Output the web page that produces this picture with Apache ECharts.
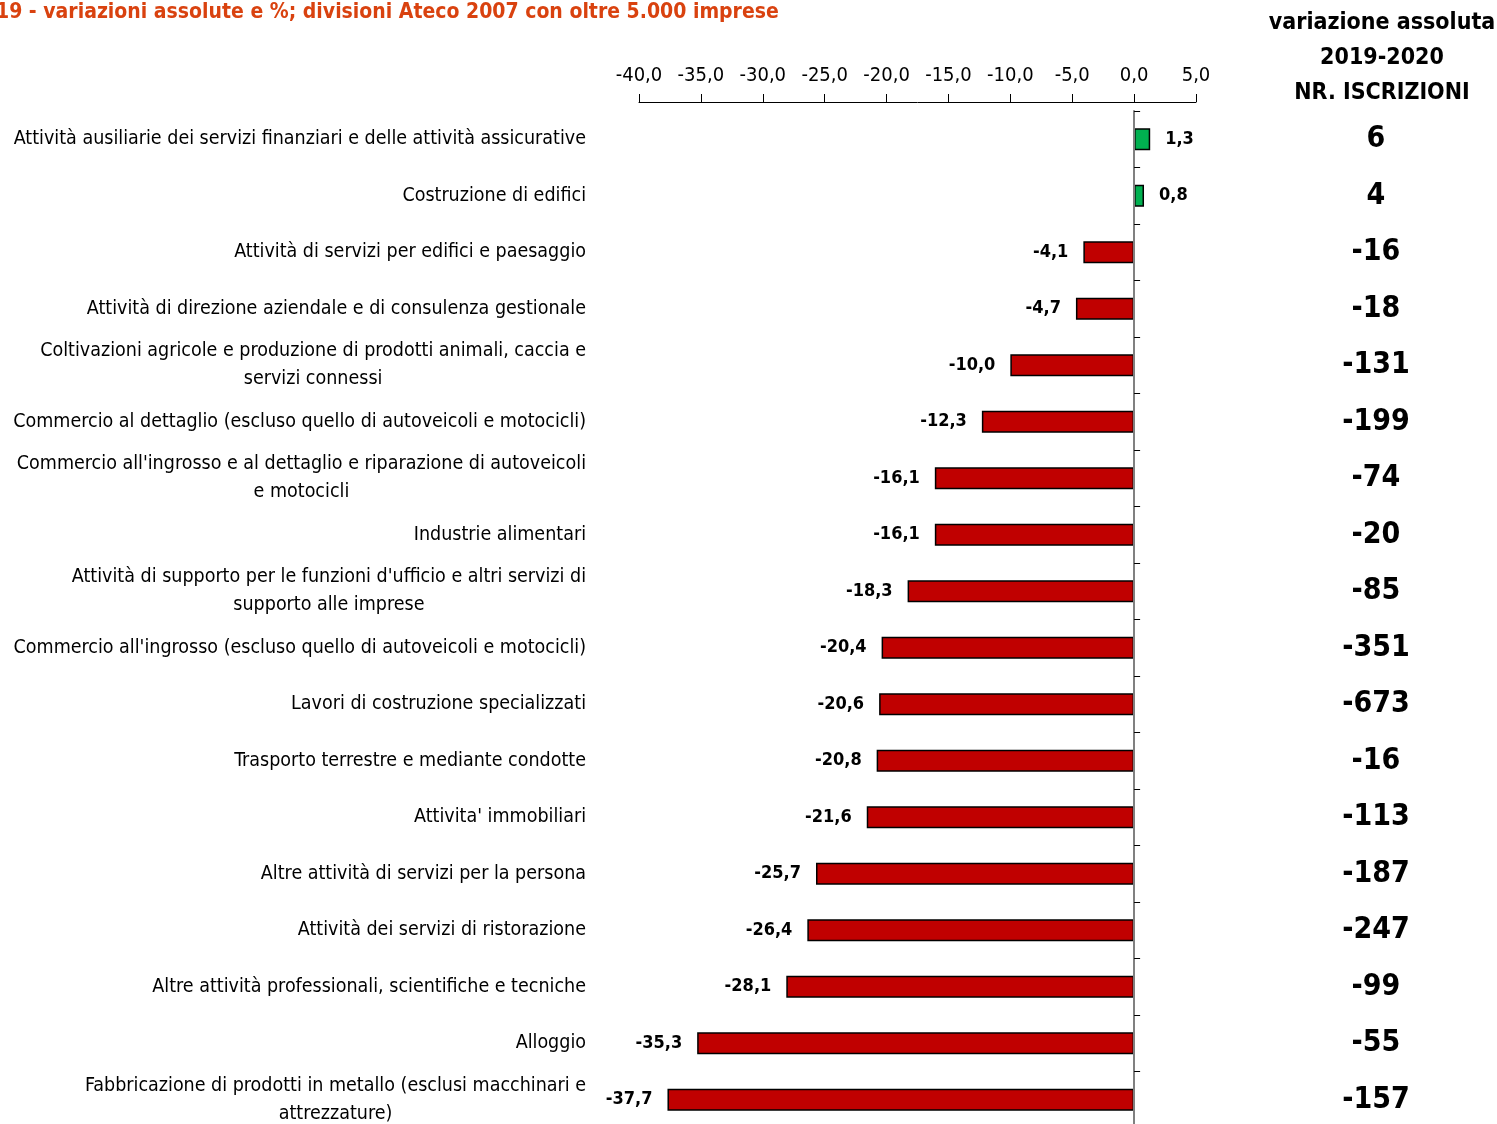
<!DOCTYPE html>
<html>
<head>
<meta charset="utf-8">
<title>Variazioni assolute e %</title>
<script src="https://cdn.jsdelivr.net/npm/echarts@6/dist/echarts.min.js"></script>
<style>
  html, body { margin: 0; padding: 0; background: #fff; }
  #chart { width: 1497px; height: 1124px; }
</style>
</head>
<body>
<div id="chart"></div>
<script>
// categorie (divisioni Ateco 2007)
var categories = [
  'Attività ausiliarie dei servizi finanziari e delle attività assicurative',
  'Costruzione di edifici',
  'Attività di servizi per edifici e paesaggio',
  'Attività di direzione aziendale e di consulenza gestionale',
  'Coltivazioni agricole e produzione di prodotti animali, caccia e\nservizi connessi',
  'Commercio al dettaglio (escluso quello di autoveicoli e motocicli)',
  "Commercio all'ingrosso e al dettaglio e riparazione di autoveicoli\ne motocicli",
  'Industrie alimentari',
  "Attività di supporto per le funzioni d'ufficio e altri servizi di\nsupporto alle imprese",
  "Commercio all'ingrosso (escluso quello di autoveicoli e motocicli)",
  'Lavori di costruzione specializzati',
  'Trasporto terrestre e mediante condotte',
  "Attivita' immobiliari",
  'Altre attività di servizi per la persona',
  'Attività dei servizi di ristorazione',
  'Altre attività professionali, scientifiche e tecniche',
  'Alloggio',
  'Fabbricazione di prodotti in metallo (esclusi macchinari e\nattrezzature)'
];
// variazione %
var pctValues = [1.3, 0.8, -4.1, -4.7, -10.0, -12.3, -16.1, -16.1, -18.3, -20.4, -20.6, -20.8, -21.6, -25.7, -26.4, -28.1, -35.3, -37.7];
// variazione assoluta 2019-2020, nr. iscrizioni
var absValues = ['6', '4', '-16', '-18', '-131', '-199', '-74', '-20', '-85', '-351', '-673', '-16', '-113', '-187', '-247', '-99', '-55', '-157'];

var FONT = '"Liberation Sans Narrow", "Arial Narrow", "DejaVu Sans Condensed", sans-serif';

function fmt(v) {
  return v.toFixed(1).replace('.', ',');
}

var chart = echarts.init(document.getElementById('chart'));

var barData = pctValues.map(function (v) {
  return {
    value: v,
    itemStyle: { color: v >= 0 ? '#00B050' : '#C00000' },
    label: { position: v >= 0 ? 'right' : 'left' }
  };
});

var option = {
  animation: false,
  backgroundColor: '#fff',
  grid: {
    left: 639,
    right: 301,
    top: 111,
    height: 1017,
    containLabel: false,
    outerBoundsMode: 'none'
  },
  graphic: [
    {
      type: 'text',
      left: -4,
      top: 2,
      style: {
        text: '19 - variazioni assolute e %; divisioni Ateco 2007 con oltre 5.000 imprese',
        font: 'bold 21px ' + FONT,
        fill: '#D9420F'
      }
    },
    {
      type: 'text',
      x: 1382,
      y: 58,
      style: {
        text: 'variazione assoluta\n2019-2020\nNR. ISCRIZIONI',
        font: 'bold 23px ' + FONT,
        fill: '#000',
        align: 'center',
        verticalAlign: 'middle',
        lineHeight: 35
      }
    }
  ],
  xAxis: {
    type: 'value',
    position: 'top',
    offset: 9,
    min: -40,
    max: 5,
    interval: 5,
    axisLine: { show: true, lineStyle: { color: '#000', width: 1 } },
    axisTick: { show: true, length: 8, lineStyle: { color: '#000' } },
    splitLine: { show: false },
    axisLabel: {
      margin: 16,
      color: '#000',
      fontSize: 20,
      fontFamily: FONT,
      formatter: fmt
    }
  },
  yAxis: [
    {
      // etichette delle categorie a sinistra
      type: 'category',
      inverse: true,
      position: 'left',
      data: categories,
      axisLine: { show: false, onZero: false },
      axisTick: { show: false },
      axisLabel: {
        interval: 0,
        margin: 53,
        color: '#000',
        fontSize: 19.5,
        fontFamily: FONT,
        lineHeight: 28,
        align: 'right',
        formatter: function (v) { return '{c|' + v.split('\n').join('}\n{c|') + '}'; },
        rich: {
          c: { fontSize: 19.5, fontFamily: FONT, color: '#000', lineHeight: 28, align: 'center' }
        }
      }
    },
    {
      // linea dello zero
      type: 'category',
      inverse: true,
      data: categories,
      z: 5,
      axisLine: { show: true, onZero: true, lineStyle: { color: '#808080', width: 2 } },
      axisTick: { show: true, length: 6, lineStyle: { color: '#000' } },
      axisLabel: { show: false }
    },
    {
      // variazione assoluta a destra
      type: 'category',
      inverse: true,
      position: 'right',
      data: absValues,
      axisLine: { show: false, onZero: false },
      axisTick: { show: false },
      axisLabel: {
        interval: 0,
        margin: 180,
        align: 'center',
        color: '#000',
        fontSize: 30,
        fontWeight: 'bold',
        fontFamily: FONT
      }
    }
  ],
  series: [
    {
      type: 'bar',
      yAxisIndex: 0,
      data: barData,
      barWidth: 22,
      itemStyle: { borderColor: '#000', borderWidth: 1.5 },
      label: {
        show: true,
        distance: 15,
        color: '#000',
        fontSize: 18,
        fontWeight: 'bold',
        fontFamily: FONT,
        formatter: function (p) { return fmt(p.value); }
      }
    }
  ]
};

chart.setOption(option);
</script>
</body>
</html>
